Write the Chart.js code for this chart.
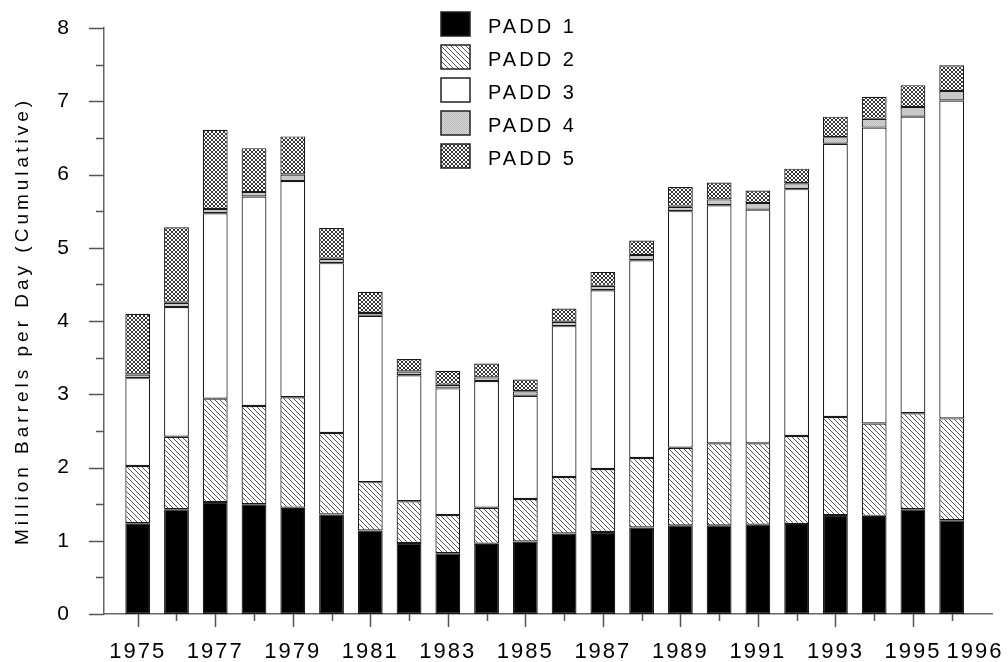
<!DOCTYPE html>
<html>
<head>
<meta charset="utf-8">
<style>
  html, body { margin: 0; padding: 0; background: #fff; }
  #wrap { width: 1008px; height: 662px; position: relative; }
</style>
</head>
<body>
<div id="wrap"><canvas id="padd-chart"></canvas></div>
<script src="https://cdn.jsdelivr.net/npm/chart.js"></script>
<script>
  // data, million barrels per day per PADD (segment, not cumulative)
  const years = [1975, 1976, 1977, 1978, 1979, 1980, 1981, 1982, 1983, 1984, 1985,
                 1986, 1987, 1988, 1989, 1990, 1991, 1992, 1993, 1994, 1995, 1996];
  const padd1 = [1.24, 1.43, 1.53, 1.50, 1.45, 1.36, 1.14, 0.97, 0.83, 0.96, 0.99,
                 1.10, 1.12, 1.18, 1.21, 1.21, 1.22, 1.23, 1.35, 1.34, 1.43, 1.28];
  const padd2 = [0.78, 0.99, 1.41, 1.34, 1.51, 1.11, 0.66, 0.57, 0.52, 0.49, 0.58,
                 0.77, 0.86, 0.95, 1.06, 1.12, 1.11, 1.20, 1.34, 1.26, 1.31, 1.39];
  const padd3 = [1.20, 1.77, 2.53, 2.86, 2.95, 2.32, 2.27, 1.72, 1.73, 1.73, 1.41,
                 2.06, 2.44, 2.70, 3.23, 3.25, 3.19, 3.37, 3.73, 4.04, 4.05, 4.34];
  const padd4 = [0.05, 0.06, 0.06, 0.06, 0.09, 0.06, 0.04, 0.05, 0.05, 0.05, 0.06,
                 0.06, 0.06, 0.07, 0.06, 0.08, 0.09, 0.08, 0.09, 0.12, 0.13, 0.13];
  const padd5 = [0.83, 1.03, 1.08, 0.60, 0.52, 0.42, 0.29, 0.17, 0.19, 0.19, 0.16,
                 0.18, 0.19, 0.20, 0.27, 0.23, 0.17, 0.20, 0.28, 0.30, 0.30, 0.35];
  const seriesNames = ["PADD 1", "PADD 2", "PADD 3", "PADD 4", "PADD 5"];
  const xTickLabels = ["1975", "1977", "1979", "1981", "1983", "1985", "1987",
                       "1989", "1991", "1993", "1995", "1996"];
  const yTickLabels = ["0", "1", "2", "3", "4", "5", "6", "7", "8"];

  // little pixel tiles for the hatch fills
  function makePattern(size, painter) {
    const c = document.createElement("canvas");
    c.width = size; c.height = size;
    const g = c.getContext("2d");
    painter(g, size);
    return g.createPattern(c, "repeat");
  }
  const ctx = document.getElementById("padd-chart").getContext("2d");

  const hatchDiag = makePattern(5, (g, n) => {
    g.fillStyle = "#fff"; g.fillRect(0, 0, n, n);
    g.fillStyle = "#555";
    for (let i = 0; i < n; i++) g.fillRect(i, i, 1, 1);
  });
  const hatchGray = makePattern(2, (g, n) => {
    g.fillStyle = "#d4d4d4"; g.fillRect(0, 0, n, n);
    g.fillStyle = "#bdbdbd"; g.fillRect(0, 0, 1, 1); g.fillRect(1, 1, 1, 1);
  });
  const hatchCross = makePattern(4, (g, n) => {
    g.fillStyle = "#fff"; g.fillRect(0, 0, n, n);
    g.fillStyle = "#333";
    for (let i = 0; i < n; i++) { g.fillRect(i, i, 1, 1); g.fillRect(n - 1 - i, i, 1, 1); }
  });

  const fills = ["#000", hatchDiag, "#fff", hatchGray, hatchCross];
  const values = [padd1, padd2, padd3, padd4, padd5];

  const FONT = "'Liberation Sans', Arial, sans-serif";
  const SPACING = "2px";

  // canvas resets wipe letterSpacing, so put it back before layout and draw;
  // the y title is spaced a bit wider than the tick labels
  const spacingPlugin = {
    id: "spacing",
    beforeLayout(chart) { chart.ctx.letterSpacing = SPACING; },
    beforeDraw(chart) {
      chart.ctx.letterSpacing = SPACING;
      const ys = chart.scales.y;
      if (ys && !ys._wideTitle) {
        const orig = ys.drawTitle.bind(ys);
        ys.drawTitle = function () {
          const c = this.ctx;
          c.save();
          c.letterSpacing = "4px";
          orig();
          c.restore();
        };
        ys._wideTitle = true;
      }
    },
  };

  // outward ticks: long on odd years and whole numbers, short in between
  const tickPlugin = {
    id: "outTicks",
    afterDraw(chart) {
      const c = chart.ctx;
      const xs = chart.scales.x, ys = chart.scales.y;
      c.save();
      c.strokeStyle = "#555";
      c.lineWidth = 1.5;
      c.beginPath();
      years.forEach((yr) => {
        const px = Math.round(xs.getPixelForValue(yr)) + 0.5;
        const len = yr % 2 === 1 ? 13 : 7;
        c.moveTo(px, ys.bottom);
        c.lineTo(px, ys.bottom + len);
      });
      for (let v = 0; v <= 8; v += 0.5) {
        const py = Math.round(ys.getPixelForValue(v)) + 0.5;
        const len = Number.isInteger(v) ? 15 : 8;
        c.moveTo(xs.left, py);
        c.lineTo(xs.left - len, py);
      }
      c.stroke();
      c.restore();
    },
  };

  // vertical legend near the top middle
  const legendPlugin = {
    id: "stackLegend",
    afterDraw(chart) {
      const c = chart.ctx;
      c.save();
      c.letterSpacing = "3px";
      c.font = "20px " + FONT;
      c.textBaseline = "middle";
      chart.data.datasets.forEach((ds, i) => {
        const top = 12 + i * 33;
        c.fillStyle = ds.backgroundColor;
        c.fillRect(441, top, 29, 24);
        c.strokeStyle = "#222";
        c.lineWidth = 1.5;
        c.strokeRect(441, top, 29, 24);
        c.fillStyle = "#000";
        c.fillText(ds.label, 488, top + 15);
      });
      c.restore();
    },
  };

  new Chart(ctx, {
    type: "bar",
    data: {
      labels: years,
      datasets: seriesNames.map((name, i) => ({
        label: name,
        data: values[i],
        backgroundColor: fills[i],
        borderColor: "#1a1a1a",
        borderWidth: 1.2,
        borderSkipped: false,
        categoryPercentage: 1,
        barPercentage: 0.64,
      })),
    },
    options: {
      responsive: true,
      maintainAspectRatio: false,
      animation: false,
      layout: { padding: { top: 28, right: 16, left: 0, bottom: 0 } },
      plugins: { legend: { display: false }, tooltip: { enabled: false } },
      scales: {
        x: {
          type: "linear",
          stacked: true,
          offset: false,
          min: 1974.13,
          max: 1997.04,
          // the last label sits nudged right of its bar, as in the original
          afterBuildTicks: (s) => {
            s.ticks = xTickLabels.map((l) => ({ value: l === "1996" ? 1996.6 : Number(l) }));
          },
          afterFit: (s) => { s.height = 48; s.paddingLeft = 0; s.paddingRight = 0; },
          grid: { display: false, drawTicks: false, offset: false },
          border: { display: true, color: "#666", width: 1.5 },
          ticks: {
            autoSkip: false,
            maxRotation: 0,
            padding: 25,
            color: "#000",
            font: { family: FONT, size: 22 },
            callback: (v) => (v === 1996.6 ? "1996" : String(v)),
          },
        },
        y: {
          stacked: true,
          min: 0,
          max: 8,
          afterFit: (s) => { s.width = 104; s.paddingTop = 0; s.paddingBottom = 0; },
          grid: { display: false, drawTicks: false },
          border: { display: true, color: "#666", width: 1.5 },
          ticks: {
            stepSize: 1,
            padding: 33,
            color: "#000",
            font: { family: FONT, size: 21 },
            callback: (v) => yTickLabels[v],
          },
          title: {
            display: true,
            text: "Million Barrels per Day (Cumulative)",
            color: "#000",
            font: { family: FONT, size: 19 },
            padding: { top: 11, bottom: 0 },
          },
        },
      },
    },
    plugins: [spacingPlugin, tickPlugin, legendPlugin],
  });
</script>
</body>
</html>
